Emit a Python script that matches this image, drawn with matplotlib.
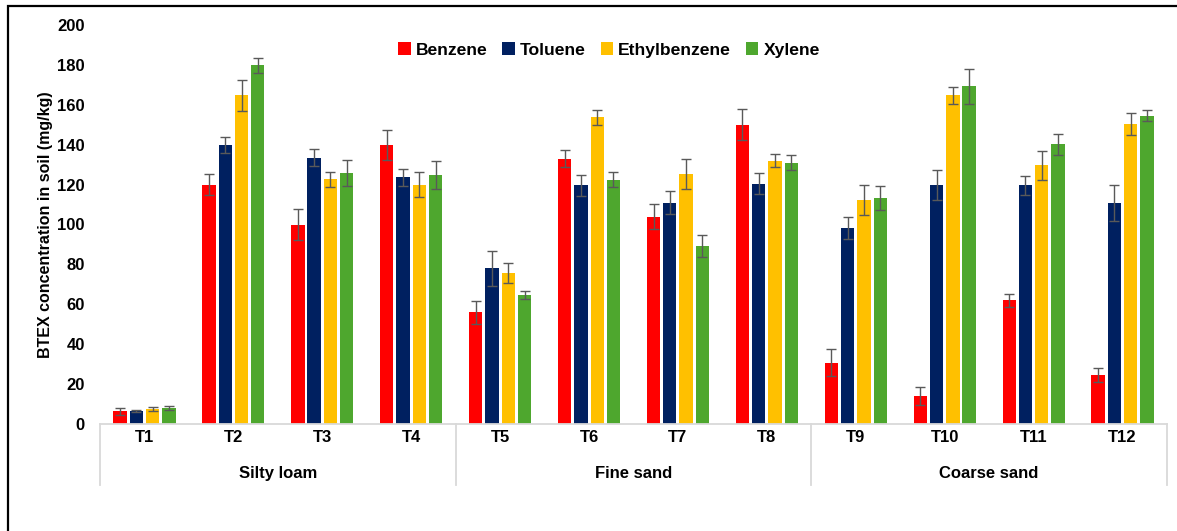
import matplotlib
matplotlib.use("Agg")
import matplotlib.pyplot as plt
import matplotlib.transforms as mtransforms
from matplotlib.patches import Rectangle
from matplotlib.lines import Line2D
import numpy as np

plt.rcParams['font.family'] = ['Liberation Sans', 'DejaVu Sans']
plt.rcParams['font.weight'] = 'bold'

treatments = ["T1", "T2", "T3", "T4", "T5", "T6", "T7", "T8", "T9", "T10", "T11", "T12"]
soil_groups = ["Silty loam", "Fine sand", "Coarse sand"]
compounds = ["Benzene", "Toluene", "Ethylbenzene", "Xylene"]
colors = ["#FF0000", "#002060", "#FFC000", "#4EA72E"]

benzene = [6.3, 120, 100, 139.8, 55.9, 132.9, 103.9, 150, 30.8, 13.9, 62, 24.6]
toluene = [6.3, 139.8, 133.4, 123.7, 78, 119.7, 111, 120.5, 98.3, 119.7, 119.7, 110.8]
ethylbenzene = [7.3, 164.7, 122.7, 120, 75.8, 153.7, 125.1, 131.9, 112.5, 164.7, 129.7, 150.3]
xylene = [7.8, 179.7, 125.9, 124.6, 64.7, 122.5, 89.2, 131, 113.4, 169.2, 140.2, 154.6]

benzene_err = [1.9, 5.3, 7.9, 7.6, 5.7, 4.2, 6.3, 7.7, 6.9, 4.4, 3.2, 3.7]
toluene_err = [0.5, 4.2, 4.2, 4.2, 8.7, 5.3, 5.8, 5.3, 5.4, 7.6, 4.8, 8.8]
ethylbenzene_err = [1.0, 7.8, 3.8, 6.2, 4.9, 3.7, 7.5, 3.3, 7.5, 4.4, 7.3, 5.6]
xylene_err = [1.0, 3.9, 6.5, 7.0, 2.2, 3.8, 5.3, 3.6, 6.1, 8.6, 5.4, 2.9]

series = [benzene, toluene, ethylbenzene, xylene]
errors = [benzene_err, toluene_err, ethylbenzene_err, xylene_err]

W, H = 1177, 531
fig = plt.figure(figsize=(W / 100, H / 100), dpi=100)
ax = fig.add_axes([100 / W, 1 - 424 / H, 1067 / W, 399 / H])

x = np.arange(len(treatments))
pitch = 0.183
bar_w = 0.15
for i, (vals, errs, col) in enumerate(zip(series, errors, colors)):
    pos = x + (i - 1.5) * pitch
    ax.bar(pos, vals, width=bar_w, color=col, edgecolor='none', zorder=2)
    ax.errorbar(pos, vals, yerr=errs, fmt='none', ecolor='#595959',
                elinewidth=1.0, capsize=3.3, capthick=1.0, zorder=3)

ax.set_xlim(-0.5, len(treatments) - 0.5)
ax.set_ylim(0, 200)
ax.set_yticks(np.arange(0, 201, 20))
ax.tick_params(axis='y', length=0, labelsize=12, pad=11)
ax.tick_params(axis='x', length=0, labelbottom=False)
for lbl in ax.get_yticklabels():
    lbl.set_fontweight('bold')
for side in ['left', 'right', 'top']:
    ax.spines[side].set_visible(False)
ax.spines['bottom'].set_color('#D9D9D9')
ax.spines['bottom'].set_linewidth(1.3)

ax.set_ylabel("BTEX concentration in soil (mg/kg)", fontsize=11.5, fontweight='bold',
              labelpad=3)

# Two-level category axis
trans = mtransforms.blended_transform_factory(ax.transData, ax.transAxes)
for xi, name in zip(x, treatments):
    ax.text(xi, -0.033, name, transform=trans, ha='center', va='center',
            fontsize=12, fontweight='bold')
n_per = len(treatments) // len(soil_groups)
for g, name in enumerate(soil_groups):
    center = g * n_per + (n_per - 1) / 2
    ax.text(center, -0.125, name, transform=trans, ha='center', va='center',
            fontsize=12, fontweight='bold')
for b in range(len(soil_groups) + 1):
    xb = b * n_per - 0.5
    ax.add_line(Line2D([xb, xb], [0, -0.152], transform=trans, color='#D9D9D9',
                       linewidth=1.3, clip_on=False))

handles = [Rectangle((0, 0), 1, 1, facecolor=c, edgecolor='none') for c in colors]
leg = fig.legend(handles, compounds, loc='center', bbox_to_anchor=(609 / W, 1 - 50 / H),
                 ncol=4, frameon=False, prop={'size': 12.6, 'weight': 'bold'},
                 handlelength=0.7, handleheight=0.7, handletextpad=0.3,
                 columnspacing=0.85)

# Outer frame (top and left edges visible)
fig.patches.append(Rectangle((8 / W, -0.1), 1.2, 1 - 6 / H + 0.1, transform=fig.transFigure,
                             fill=False, edgecolor='black', linewidth=1.6))

fig.savefig("out.png", dpi=100)
